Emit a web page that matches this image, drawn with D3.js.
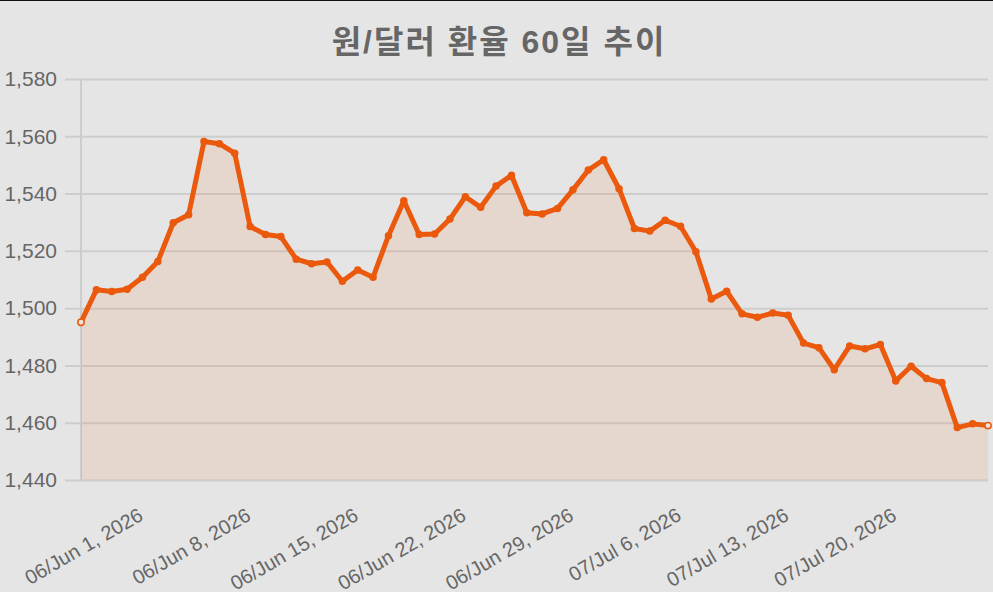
<!DOCTYPE html>
<html>
<head>
<meta charset="utf-8">
<script src="https://cdn.jsdelivr.net/npm/d3@7/dist/d3.min.js"></script>
<style>
    body { margin: 0; background: #e5e5e5; overflow: hidden; }
    svg { display: block; }
</style>
</head>
<body>
<svg width="993" height="592"></svg>
<script>
/*jslint browser: true */
/*global d3 */

// daily closing values, 2026-05-28 .. 2026-07-26
var dates = [
    "2026-05-28", "2026-05-29", "2026-05-30", "2026-05-31", "2026-06-01",
    "2026-06-02", "2026-06-03", "2026-06-04", "2026-06-05", "2026-06-06",
    "2026-06-07", "2026-06-08", "2026-06-09", "2026-06-10", "2026-06-11",
    "2026-06-12", "2026-06-13", "2026-06-14", "2026-06-15", "2026-06-16",
    "2026-06-17", "2026-06-18", "2026-06-19", "2026-06-20", "2026-06-21",
    "2026-06-22", "2026-06-23", "2026-06-24", "2026-06-25", "2026-06-26",
    "2026-06-27", "2026-06-28", "2026-06-29", "2026-06-30", "2026-07-01",
    "2026-07-02", "2026-07-03", "2026-07-04", "2026-07-05", "2026-07-06",
    "2026-07-07", "2026-07-08", "2026-07-09", "2026-07-10", "2026-07-11",
    "2026-07-12", "2026-07-13", "2026-07-14", "2026-07-15", "2026-07-16",
    "2026-07-17", "2026-07-18", "2026-07-19", "2026-07-20", "2026-07-21",
    "2026-07-22", "2026-07-23", "2026-07-24", "2026-07-25", "2026-07-26"
];
var rates = [
    1495.1, 1506.4, 1505.8, 1506.6, 1510.8, 1516.3, 1529.8, 1532.6, 1558.2,
    1557.4, 1554.1, 1528.5, 1525.7, 1525.0, 1517.1, 1515.5, 1516.1, 1509.4,
    1513.3, 1510.8, 1525.3, 1537.5, 1525.7, 1525.9, 1531.1, 1538.9, 1535.2,
    1542.6, 1546.4, 1533.3, 1532.9, 1534.8, 1541.3, 1548.2, 1551.8, 1541.7,
    1527.8, 1526.9, 1530.7, 1528.6, 1519.7, 1503.2, 1505.9, 1498.0, 1496.8,
    1498.3, 1497.5, 1487.8, 1486.2, 1478.5, 1486.8, 1485.8, 1487.3, 1474.6,
    1479.7, 1475.4, 1474.0, 1458.3, 1459.6, 1459.0
];
var tickDates = [
    "2026-06-01", "2026-06-08", "2026-06-15", "2026-06-22",
    "2026-06-29", "2026-07-06", "2026-07-13", "2026-07-20"
];
var yTicks = [1440, 1460, 1480, 1500, 1520, 1540, 1560, 1580];
var title = "원/달러 환율 60일 추이";

(function () {
    "use strict";

    var parseDate = d3.timeParse("%Y-%m-%d");
    var fmtDate = d3.timeFormat("%m/%b %-d, %Y");
    var fmtNum = d3.format(",");

    var points = dates.map(function (d, i) {
        return {date: parseDate(d), value: rates[i]};
    });

    var svg = d3.select("svg");
    var plotLeft = 81;
    var plotRight = 988;
    var plotTop = 79;
    var plotBottom = 480;
    var orange = "#ea590c";
    var grid = "#cdcdcd";

    var x = d3.scaleTime()
        .domain(d3.extent(points, function (d) { return d.date; }))
        .range([plotLeft, plotRight]);
    var y = d3.scaleLinear()
        .domain([1440, 1580])
        .range([plotBottom, plotTop]);

    svg.append("rect")
        .attr("width", 993).attr("height", 1)
        .attr("fill", "#111");

    svg.append("text")
        .attr("x", 499).attr("y", 53)
        .attr("text-anchor", "middle")
        .attr("letter-spacing", 2)
        .style("font",
                "bold 32px 'Liberation Sans', 'Noto Sans CJK KR', sans-serif")
        .attr("fill", "#666")
        .text(title);

    // horizontal grid (drawn from the right edge, 16px stub past the axis)
    var yAxis = d3.axisLeft(y)
        .tickValues(yTicks)
        .tickSize(plotRight - plotLeft + 16)
        .tickFormat(fmtNum);
    var yAxisGroup = svg.append("g")
        .attr("transform", "translate(" + plotRight + ",0)")
        .call(yAxis);
    yAxisGroup.select(".domain").remove();
    yAxisGroup.selectAll(".tick line")
        .attr("stroke", grid).attr("stroke-width", 2);
    yAxisGroup.selectAll(".tick text")
        .attr("x", -(plotRight - 57))
        .attr("fill", "#666")
        .style("font", "21px 'Liberation Sans', sans-serif");

    svg.append("line")
        .attr("x1", plotLeft).attr("x2", plotLeft)
        .attr("y1", plotTop).attr("y2", plotBottom)
        .attr("stroke", grid).attr("stroke-width", 2);

    // x labels
    var xAxis = d3.axisBottom(x)
        .tickValues(tickDates.map(parseDate))
        .tickSize(0)
        .tickFormat(fmtDate);
    var xAxisGroup = svg.append("g")
        .attr("transform", "translate(0," + plotBottom + ")")
        .call(xAxis);
    xAxisGroup.select(".domain").remove();
    xAxisGroup.selectAll(".tick text")
        .attr("fill", "#666")
        .style("font", "20px 'Liberation Sans', sans-serif")
        .attr("text-anchor", "end")
        .attr("dy", "0.35em")
        .attr("y", 0)
        .attr("transform", "translate(-2,33) rotate(-30)");

    var area = d3.area()
        .x(function (d) { return x(d.date); })
        .y0(y(1440))
        .y1(function (d) { return y(d.value); });
    var line = d3.line()
        .x(function (d) { return x(d.date); })
        .y(function (d) { return y(d.value); });

    svg.append("path")
        .datum(points)
        .attr("d", area)
        .attr("fill", orange)
        .attr("fill-opacity", 0.1);

    svg.append("path")
        .datum(points)
        .attr("d", line)
        .attr("fill", "none")
        .attr("stroke", orange)
        .attr("stroke-width", 5)
        .attr("stroke-linejoin", "round");

    var isEnd = function (i) {
        return i === 0 || i === points.length - 1;
    };

    svg.append("g")
        .selectAll("circle")
        .data(points)
        .join("circle")
        .attr("cx", function (d) { return x(d.date); })
        .attr("cy", function (d) { return y(d.value); })
        .attr("r", function (ignore, i) {
            return isEnd(i) ? 3.2 : 3;
        })
        .attr("fill", function (ignore, i) {
            return isEnd(i) ? "#eee2da" : orange;
        })
        .attr("stroke", orange)
        .attr("stroke-width", 1.5);
}());
</script>
</body>
</html>
